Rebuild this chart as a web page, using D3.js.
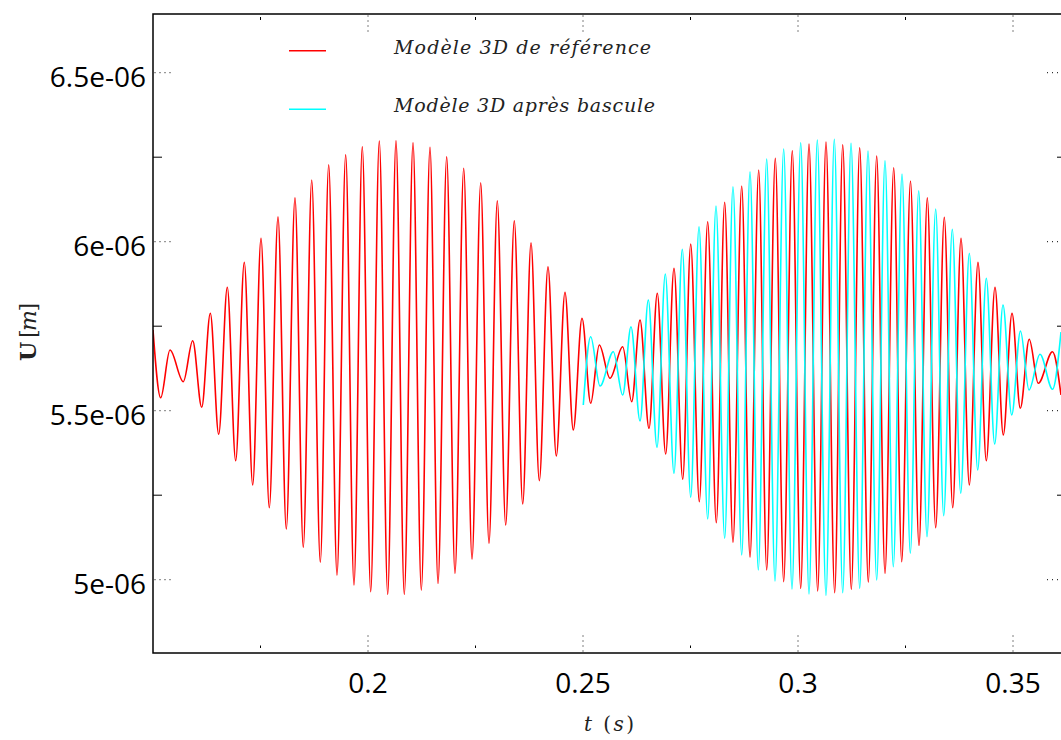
<!DOCTYPE html>
<html><head><meta charset="utf-8">
<script src="https://cdn.jsdelivr.net/npm/d3@7"></script>
<style>body{margin:0;background:#fff}</style></head>
<body><svg id="c" width="1061" height="740"></svg>
<script>
// time (s) of read extrema, displacement in units of 1e-6 m
const redT=[0.15,0.15179,0.15395,0.15705,0.15923,0.16133,0.16333,0.16528,0.16728,0.16923,
0.17123,0.17319,0.17512,0.17705,0.17907,0.18100,0.18302,0.18495,0.18691,0.18891,
0.19086,0.19279,0.19481,0.19674,0.19867,0.20063,0.20263,0.20458,0.20651,0.20844,
0.21047,0.21240,0.21442,0.21628,0.21830,0.22023,0.22226,0.22419,0.22621,0.22814,
0.23007,0.23202,0.23402,0.23598,0.23791,0.23984,0.24186,0.24379,0.24581,0.24774,
0.24977,0.25179,0.25379,0.25628,0.25923,0.26133,0.26326,0.26535,0.26728,0.26923,
0.27116,0.27319,0.27505,0.27705,0.27900,0.28100,0.28295,0.28488,0.28691,0.28884,
0.29086,0.29272,0.29472,0.29667,0.29867,0.30063,0.30256,0.30458,0.30651,0.30853,
0.31040,0.31240,0.31435,0.31635,0.31830,0.32023,0.32226,0.32412,0.32616,0.32814,
0.33007,0.33202,0.33402,0.33598,0.33791,0.33984,0.34186,0.34379,0.34581,0.34774,
0.34977,0.35170,0.35377,0.35588,0.35919,0.36116];
const redU=[5.7388,5.5385,5.6796,5.5858,5.7071,5.5101,5.7882,5.4302,5.8651,5.3521,
5.9391,5.2802,6.0101,5.2130,6.0740,5.1500,6.1302,5.0959,6.1825,5.0515,
6.2278,5.0139,6.2574,4.9843,6.2811,4.9645,6.2979,4.9568,6.2988,4.9568,
6.2929,4.9695,6.2793,4.9893,6.2515,5.0189,6.2172,5.0604,6.1746,5.1077,
6.1213,5.1618,6.0621,5.2240,5.9970,5.2929,5.9260,5.3660,5.8503,5.4429,
5.7734,5.5219,5.6944,5.5959,5.6893,5.5266,5.7683,5.4479,5.8473,5.3719,
5.9213,5.2970,5.9932,5.2308,6.0592,5.1686,6.1166,5.1107,6.1648,5.0663,
6.2121,5.0287,6.2467,4.9941,6.2692,4.9746,6.2891,4.9666,6.2950,4.9615,
6.2870,4.9716,6.2781,4.9932,6.2536,5.0189,6.2189,5.0533,6.1796,5.1012,
6.1302,5.1538,6.0722,5.2130,6.0101,5.2802,5.9391,5.3521,5.8651,5.4281,
5.7882,5.5071,5.7112,5.5811,5.6746,5.5465];
const cyanT=[0.25007,0.25179,0.25395,0.25705,0.25923,0.26116,0.26326,0.26519,0.26721,0.26914,
0.27116,0.27309,0.27505,0.27698,0.27900,0.28093,0.28295,0.28488,0.28691,0.28884,
0.29077,0.29272,0.29465,0.29667,0.29860,0.30063,0.30256,0.30449,0.30651,0.30844,
0.31040,0.31233,0.31435,0.31628,0.31830,0.32023,0.32216,0.32419,0.32612,0.32807,
0.33000,0.33202,0.33388,0.33588,0.33784,0.33984,0.34179,0.34379,0.34574,0.34767,
0.34970,0.35174,0.35372,0.35628,0.35919,0.36116];
const cyanU=[5.5169,5.7189,5.5731,5.6746,5.5465,5.7485,5.4695,5.8275,5.3917,5.9044,
5.3148,5.9775,5.2438,6.0444,5.1796,6.1056,5.1225,6.1627,5.0731,6.2071,
5.0287,6.2447,4.9962,6.2743,4.9725,6.2929,4.9577,6.3009,4.9538,6.3030,
4.9615,6.2911,4.9746,6.2683,4.9991,6.2396,5.0385,6.2003,5.0781,6.1509,
5.1272,6.0967,5.1893,6.0367,5.2556,5.9657,5.3246,5.8917,5.4015,5.8127,
5.4873,5.7358,5.5612,5.6669,5.5633,5.7328];

const xMajorTicks=[0.2,0.25,0.3,0.35];
const xTickLabels=["0.2","0.25","0.3","0.35"];
const xMinorTicks=[0.175,0.225,0.275,0.325];
const yMajorTicks=[5,5.5,6,6.5];
const yTickLabels=["5e-06","5.5e-06","6e-06","6.5e-06"];
const yMinorTicks=[5.25,5.75,6.25];
const seriesNames=["Modèle 3D de référence","Modèle 3D après bascule"];
const seriesColors=["#ff0000","#00ffff"];

const L=153,T=14,B=653,R=1066;
const x=d3.scaleLinear().domain([0.15,0.35]).range([L,L+860]);
const y=d3.scaleLinear().domain([5,6.5]).range([579.7,72.7]);
const svg=d3.select("#c");

svg.append("defs").append("clipPath").attr("id","clip")
  .append("rect").attr("x",L).attr("y",T).attr("width",R-L).attr("height",B-T);

const series=[d3.zip(redT,redU),d3.zip(cyanT,cyanU)];
const line=d3.line().x(d=>x(d[0])).y(d=>y(d[1])).curve(d3.curveMonotoneX);
const g=svg.append("g").attr("clip-path","url(#clip)");
series.forEach((s,i)=>{
  g.append("path").attr("d",line(s)).attr("fill","none")
   .attr("stroke",seriesColors[i]).attr("stroke-width",1.6).attr("stroke-linejoin","round");
});

// ticks
const tk=svg.append("g").attr("stroke","#000");
yMinorTicks.forEach(v=>{
  tk.append("line").attr("x1",L).attr("x2",L+9).attr("y1",y(v)).attr("y2",y(v)).attr("stroke-width",1);
  tk.append("line").attr("x1",R-9).attr("x2",R).attr("y1",y(v)).attr("y2",y(v)).attr("stroke-width",1);
});
yMajorTicks.forEach(v=>{
  tk.append("line").attr("x1",L+1.5).attr("x2",L+19).attr("y1",y(v)).attr("y2",y(v))
    .attr("stroke-width",1).attr("stroke-dasharray","1,4");
  tk.append("line").attr("x1",R-19).attr("x2",R-1.5).attr("y1",y(v)).attr("y2",y(v))
    .attr("stroke-width",1).attr("stroke-dasharray","1,4");
});
xMajorTicks.forEach(v=>{
  tk.append("line").attr("x1",x(v)).attr("x2",x(v)).attr("y1",B-1.5).attr("y2",B-19)
    .attr("stroke-width",1).attr("stroke-dasharray","1,4");
  tk.append("line").attr("x1",x(v)).attr("x2",x(v)).attr("y1",T+1.5).attr("y2",T+19)
    .attr("stroke-width",1).attr("stroke-dasharray","1,4");
});
xMinorTicks.forEach(v=>{
  tk.append("line").attr("x1",x(v)).attr("x2",x(v)).attr("y1",B-5).attr("y2",B-7.5).attr("stroke-width",1);
  tk.append("line").attr("x1",x(v)).attr("x2",x(v)).attr("y1",T+3).attr("y2",T+6).attr("stroke-width",1);
});

// frame
svg.append("rect").attr("x",L).attr("y",T).attr("width",R-L).attr("height",B-T)
  .attr("fill","none").attr("stroke","#000").attr("stroke-width",1.5);

// tick labels
const lab=svg.append("g").attr("font-family","'Open Sans',sans-serif").attr("font-size",28).attr("fill","#000");
yMajorTicks.forEach((v,i)=>{
  lab.append("text").attr("x",L-7).attr("y",y(v)+14).attr("text-anchor","end").text(yTickLabels[i]);
});
xMajorTicks.forEach((v,i)=>{
  lab.append("text").attr("x",x(v)).attr("y",693).attr("text-anchor","middle").text(xTickLabels[i]);
});

// axis labels
const serif="'DejaVu Serif','Liberation Serif',serif";
const xl=svg.append("text").attr("x",609).attr("y",731).attr("text-anchor","middle")
  .attr("font-family",serif).attr("font-size",20).attr("fill","#222")
  .attr("textLength",50).attr("lengthAdjust","spacing");
xl.append("tspan").attr("font-style","italic").text("t");
xl.append("tspan").text(" (");
xl.append("tspan").attr("font-style","italic").text("s");
xl.append("tspan").text(")");

const yl=svg.append("text").attr("transform","translate(36,332) rotate(-90)").attr("text-anchor","middle")
  .attr("font-family",serif).attr("font-size",22).attr("fill","#222")
  .attr("textLength",58).attr("lengthAdjust","spacing");
yl.append("tspan").attr("font-weight","bold").text("U");
yl.append("tspan").text(" [");
yl.append("tspan").attr("font-style","italic").text("m");
yl.append("tspan").text("]");

// legend
const legY=[50.7,109.3];
const legTextY=[54,112];
const legLen=[257,261];
seriesNames.forEach((n,i)=>{
  svg.append("line").attr("x1",289).attr("x2",326).attr("y1",legY[i]).attr("y2",legY[i])
    .attr("stroke",seriesColors[i]).attr("stroke-width",1.5);
  svg.append("text").attr("x",394).attr("y",legTextY[i]).attr("font-family",serif)
    .attr("font-style","italic").attr("font-size",19).attr("fill","#222")
    .attr("textLength",legLen[i]).attr("lengthAdjust","spacing").text(n);
});
</script></body></html>
